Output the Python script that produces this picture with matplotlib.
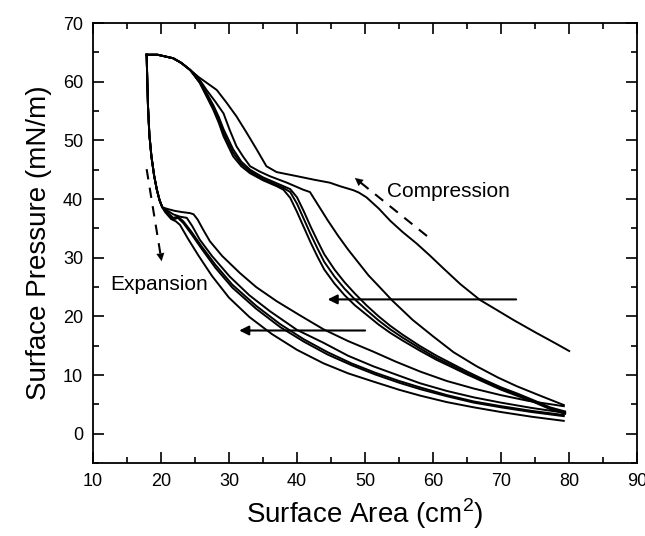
import matplotlib
matplotlib.use("Agg")
import matplotlib.pyplot as plt
from matplotlib.ticker import MultipleLocator

plt.rcParams['font.family'] = ['Liberation Sans', 'DejaVu Sans']
plt.rcParams['mathtext.fontset'] = 'custom'
plt.rcParams['mathtext.rm'] = 'Liberation Sans'

# shared top of all compression curves (x ascending)
comp_head_x = [17.9, 19.5, 21.8, 23.0, 24.3]
comp_head_y = [64.6, 64.6, 64.0, 63.2, 62.0]

# compression cycle 1 (outermost)
c1_x = [25.3, 26.5, 28.2, 29.6, 31.1, 32.6, 34.1, 35.5, 37.0, 40.0, 42.5, 44.8, 46.3,
        48.3, 49.1, 50.2, 52.0, 53.7, 55.5, 57.6, 59.5, 61.5, 64.0, 66.9, 69.5, 71.8,
        75.0, 78.0, 80.0]
c1_y = [61.0, 60.0, 58.6, 56.5, 54.1, 51.3, 48.4, 45.6, 44.6, 43.9, 43.3, 42.8, 42.2,
        41.5, 41.1, 40.3, 38.4, 36.3, 34.4, 32.4, 30.4, 28.2, 25.5, 22.8, 21.0, 19.4,
        17.3, 15.4, 14.1]

# compression cycle 2
c2_x = [25.3, 26.7, 28.0, 29.2, 30.1, 31.1, 32.1, 33.1, 34.5, 36.0, 38.5, 40.9, 41.9,
        43.2, 44.5, 46.0, 47.5, 49.0, 50.5, 52.3, 54.0, 57.0, 60.0, 63.0, 66.4, 69.5,
        72.3, 75.5, 79.2]
c2_y = [61.0, 58.6, 56.6, 54.6, 51.8, 49.0, 47.2, 45.6, 44.7, 43.9, 42.8, 41.6, 41.2,
        38.8, 36.4, 33.8, 31.4, 29.2, 27.0, 24.8, 22.7, 19.4, 16.6, 13.9, 11.5, 9.6,
        8.1, 6.6, 4.9]

# compression cycles 3-5 (close bundle)
cg_x = [25.7, 26.7, 27.7, 28.5, 29.2, 30.6, 31.8, 33.1, 35.0, 37.0, 38.0, 39.0, 40.0,
        41.0, 42.0, 43.0, 44.0, 45.5, 47.0, 48.5, 50.2, 52.0, 53.7, 55.5, 58.0, 60.5,
        62.5, 65.0, 67.5, 70.0, 72.5, 75.0, 77.2, 79.4]
c3_y = [59.8, 57.5, 55.2, 53.0, 50.7, 47.3, 45.6, 44.4, 43.2, 42.2, 41.6, 40.2, 37.8,
        35.2, 32.6, 30.2, 28.0, 25.6, 23.6, 21.9, 20.3, 18.6, 17.2, 15.9, 14.2, 12.6,
        11.5, 10.1, 8.8, 7.5, 6.4, 5.3, 4.2, 3.4]
c4_y = [59.9, 57.8, 55.6, 53.5, 51.3, 47.9, 46.0, 44.7, 43.4, 42.4, 41.9, 41.2, 39.2,
        36.6, 34.0, 31.6, 29.3, 26.8, 24.7, 22.9, 21.1, 19.3, 17.8, 16.4, 14.6, 12.9,
        11.8, 10.3, 9.0, 7.7, 6.6, 5.4, 4.3, 3.6]
c5_y = [60.0, 58.1, 56.0, 54.0, 51.9, 48.5, 46.4, 45.0, 43.7, 42.7, 42.2, 41.7, 40.3,
        37.9, 35.3, 32.9, 30.6, 28.0, 25.8, 23.9, 21.9, 20.0, 18.4, 16.9, 15.0, 13.3,
        12.1, 10.6, 9.2, 7.9, 6.8, 5.6, 4.5, 3.8]

# shared steep start of all expansion curves
exp_head_x = [17.9, 18.0, 18.1, 18.3, 18.6, 19.0, 19.4, 19.8, 20.2]
exp_head_y = [64.6, 60.0, 55.8, 51.0, 47.3, 44.0, 41.6, 39.8, 38.6]

e1_x = [21.0, 22.0, 23.0, 24.3, 24.8, 25.4, 26.2, 27.2, 29.0, 31.6, 34.0, 37.0, 40.4,
        43.9, 47.5, 51.2, 54.5, 58.1, 62.0, 66.0, 69.9, 74.0, 79.2]
e1_y = [38.3, 38.0, 37.8, 37.6, 37.4, 36.5, 34.8, 32.8, 30.3, 27.4, 25.0, 22.6, 20.2,
        17.8, 15.8, 14.0, 12.3, 10.6, 9.0, 7.7, 6.6, 5.6, 4.7]

e2_x = [21.0, 21.8, 22.8, 23.8, 24.6, 25.7, 27.5, 30.1, 33.0, 36.0, 40.0, 43.9, 47.5,
        51.2, 55.0, 58.1, 62.0, 66.0, 70.0, 74.5, 79.2]
e2_y = [38.0, 37.4, 37.0, 36.8, 35.4, 33.1, 30.3, 26.8, 23.6, 20.9, 17.7, 15.5, 13.3,
        11.5, 9.9, 8.6, 7.3, 6.2, 5.3, 4.4, 3.6]

eg_x = [20.8, 21.8, 22.5, 23.3, 24.5, 26.0, 28.0, 30.5, 34.0, 37.5, 41.0, 44.5, 48.0,
        51.5, 55.0, 58.1, 62.0, 66.0, 70.0, 74.5, 79.2]
e3_y = [37.8, 36.5, 36.8, 35.9, 34.0, 31.5, 28.3, 24.9, 21.3, 18.2, 15.7, 13.5, 11.7,
        10.1, 8.7, 7.6, 6.4, 5.3, 4.5, 3.7, 3.0]
e4_y = [37.9, 36.8, 37.0, 36.2, 34.4, 31.9, 28.8, 25.4, 21.8, 18.7, 16.1, 13.9, 12.0,
        10.4, 9.0, 7.9, 6.6, 5.5, 4.7, 3.9, 3.2]

e5_x = [20.6, 21.5, 22.2, 22.8, 24.0, 25.5, 27.5, 30.0, 33.0, 36.3, 40.0, 43.9, 47.5,
        51.2, 55.0, 58.1, 62.0, 66.0, 70.0, 74.5, 79.2]
e5_y = [37.8, 36.6, 36.2, 35.6, 33.2, 30.4, 26.9, 23.2, 19.9, 17.0, 14.3, 12.0, 10.3,
        8.9, 7.5, 6.5, 5.4, 4.5, 3.7, 2.9, 2.2]

# arrows: (start, end)
solid_arrows = [((72.2, 22.9), (44.5, 22.9)), ((50.0, 17.6), (31.5, 17.6))]
dashed_arrows = [((17.9, 45.1), (20.1, 29.4)), ((59.1, 33.7), (48.5, 43.6))]

fig = plt.figure(figsize=(6.45, 5.36), dpi=100)
ax = fig.add_axes([0.144, 0.136, 0.844, 0.821])

lw = 1.4
curves = [(c1_x, c1_y), (c2_x, c2_y), (cg_x, c3_y), (cg_x, c4_y), (cg_x, c5_y)]
for xs, ys in curves:
    ax.plot(comp_head_x + xs, comp_head_y + ys, color='black', lw=lw)

curves = [(e1_x, e1_y), (e2_x, e2_y), (eg_x, e3_y), (eg_x, e4_y), (e5_x, e5_y)]
for xs, ys in curves:
    ax.plot(exp_head_x + xs, exp_head_y + ys, color='black', lw=lw)

for start, end in solid_arrows:
    ax.annotate('', xy=end, xytext=start,
                arrowprops=dict(arrowstyle='-|>', color='black', lw=1.5,
                                mutation_scale=14, shrinkA=0, shrinkB=0))

for start, end in dashed_arrows:
    ax.plot([start[0], end[0]], [start[1], end[1]], color='black', lw=1.5,
            ls=(0, (5, 4)))
    mid = (end[0] - 0.12 * (end[0] - start[0]), end[1] - 0.12 * (end[1] - start[1]))
    ax.annotate('', xy=end, xytext=mid,
                arrowprops=dict(arrowstyle='-|>', color='black', lw=0.1,
                                mutation_scale=14, shrinkA=0, shrinkB=0))

ax.text(53.2, 41.3, 'Compression', fontsize=15, va='center', ha='left')
ax.text(12.5, 25.5, 'Expansion', fontsize=15, va='center', ha='left')

ax.set_xlim(10, 90)
ax.set_ylim(-5, 70)
ax.xaxis.set_major_locator(MultipleLocator(10))
ax.xaxis.set_minor_locator(MultipleLocator(5))
ax.yaxis.set_major_locator(MultipleLocator(10))
ax.yaxis.set_minor_locator(MultipleLocator(5))
ax.set_yticks(range(0, 71, 10))
ax.tick_params(which='both', direction='in', top=True, right=True, labelsize=13,
               width=1.2, pad=7)
ax.tick_params(which='major', length=8)
ax.tick_params(which='minor', length=4.5)
for s in ax.spines.values():
    s.set_linewidth(1.3)

ax.set_xlabel('Surface Area (cm$^{\\mathregular{2}}$)', fontsize=20, labelpad=5)
ax.set_ylabel('Surface Pressure (mN/m)', fontsize=20, labelpad=8)

fig.savefig('out.png', dpi=100)
